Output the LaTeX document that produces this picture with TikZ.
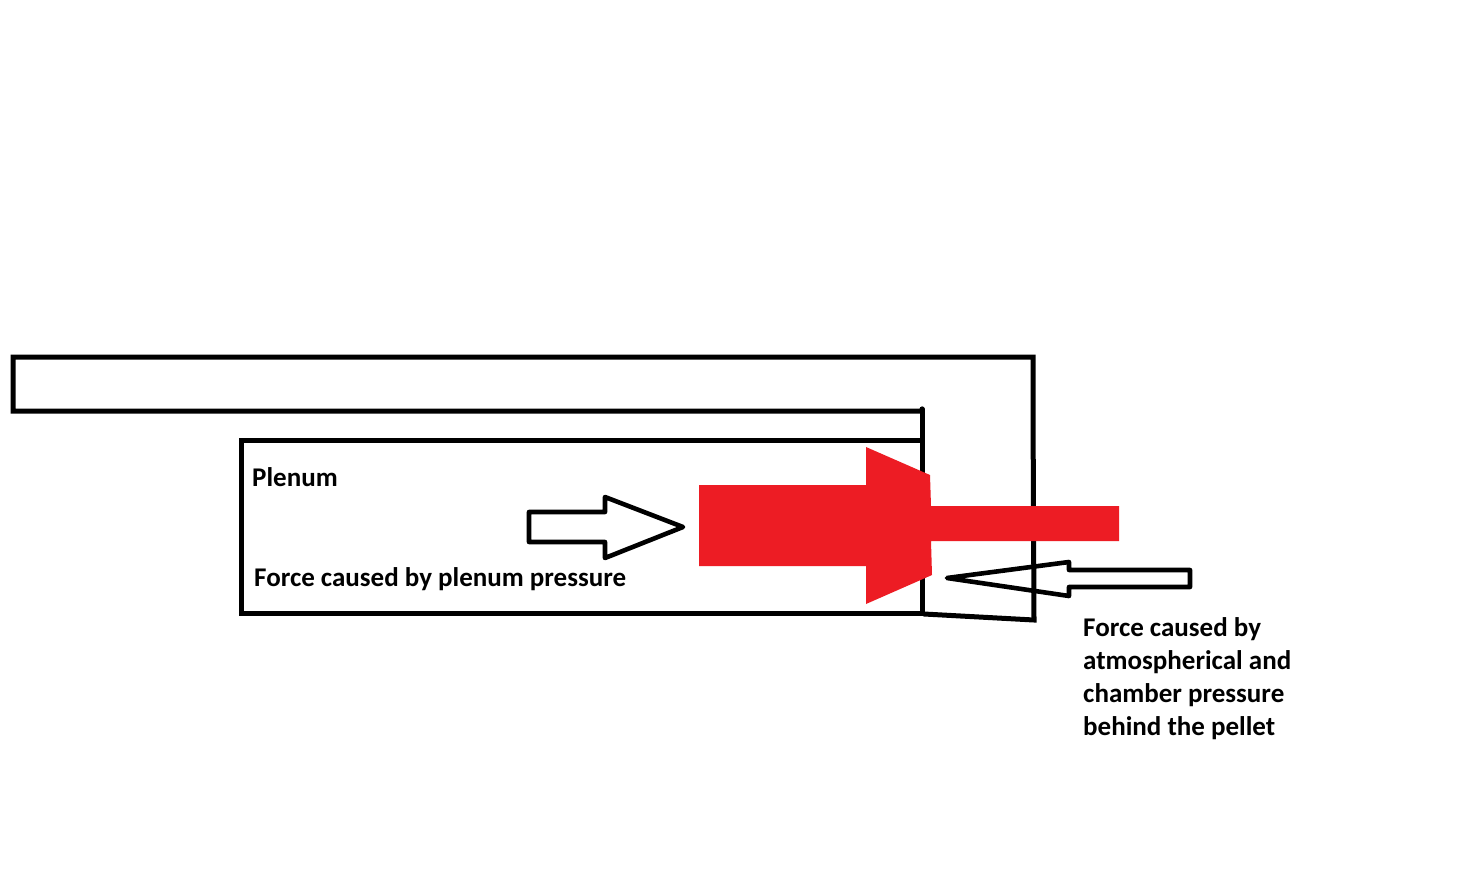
\documentclass[tikz,border=0pt]{standalone}
\usepackage{fontspec}
\setmainfont{Carlito}
\definecolor{redfill}{RGB}{237,28,36}
\tikzset{
  wall/.style={draw=black,line width=5pt,line join=miter,line cap=round},
  force/.style={draw=black,line width=4.6pt,line join=round},
  pellet/.style={fill=redfill,draw=none},
  lab/.style={font=\bfseries\fontsize{27}{33}\selectfont,anchor=base west,inner sep=0pt,text=black}
}
\begin{document}
\begin{tikzpicture}[x=1pt,y=-1pt]
\useasboundingbox (0,0) rectangle (1466,894);
\fill[white] (0,0) rectangle (1466,894);
% walls
\draw[wall] (922,409) -- (922,411) -- (13,411) -- (13,357) -- (1033,357) -- (1033,410) -- (1034,620) -- (924,614);
\draw[wall] (922,409) -- (922,613) -- (241,613) -- (241,440) -- (922,440);
% left-pointing force arrow
\draw[force] (947,578) -- (1069,562) -- (1069,570) -- (1190,570) -- (1190,587) -- (1069,587) -- (1069,596) -- cycle;
% red pellet
\fill[pellet] (699,485) -- (866,485) -- (866,447) -- (930,475) -- (931,506) -- (1119,506) -- (1119,541) -- (931,541) -- (932,575) -- (866,604) -- (866,566) -- (699,566) -- cycle;
% right-pointing force arrow
\draw[force] (529,512) -- (605,512) -- (605,497) -- (683,527) -- (605,558) -- (605,542) -- (529,542) -- cycle;
% labels
\node[lab] (plenum) at (252,486) {Plenum};
\node[lab] (fplenum) at (254,586) {Force caused by plenum pressure};
\node[lab] (f1) at (1083,636) {Force caused by};
\node[lab] (f2) at (1083,669) {atmospherical and};
\node[lab] (f3) at (1083,702) {chamber pressure};
\node[lab] (f4) at (1083,735) {behind the pellet};
\end{tikzpicture}
\end{document}
